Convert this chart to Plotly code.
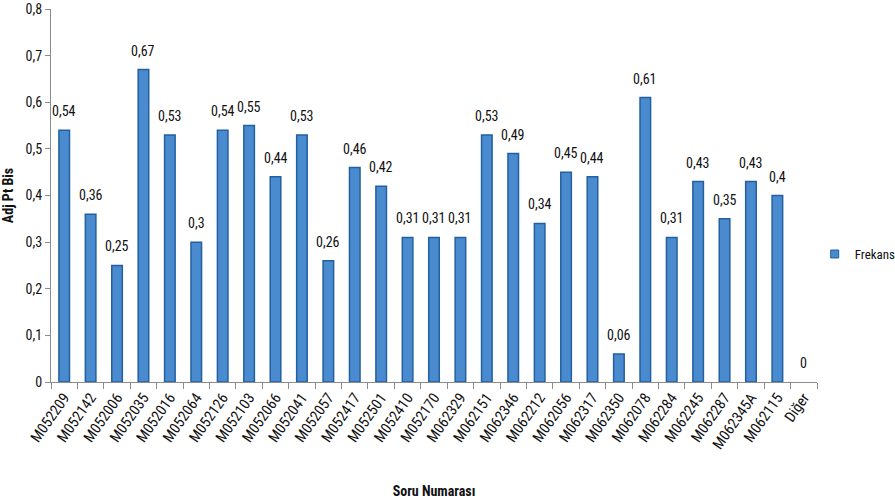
import plotly.graph_objects as go

# Item codes and their adjusted point-biserial values
items = ["M052209", "M052142", "M052006", "M052035", "M052016", "M052064", "M052126",
         "M052103", "M052066", "M052041", "M052057", "M052417", "M052501", "M052410",
         "M052170", "M062329", "M062151", "M062346", "M062212", "M062056", "M062317",
         "M062350", "M062078", "M062284", "M062245", "M062287", "M062345A", "M062115",
         "Diğer"]
adj_pt_bis = [0.54, 0.36, 0.25, 0.67, 0.53, 0.30, 0.54, 0.55, 0.44, 0.53, 0.26, 0.46,
              0.42, 0.31, 0.31, 0.31, 0.53, 0.49, 0.34, 0.45, 0.44, 0.06, 0.61, 0.31,
              0.43, 0.35, 0.43, 0.40, 0.0]

FONT = "Liberation Sans Narrow, Roboto Condensed, Noto Sans, sans-serif"
BAR_FILL = "#4A8BD0"
BAR_EDGE = "#22609F"

fig = go.Figure()
fig.add_trace(go.Bar(
    x=items, y=adj_pt_bis, name="Frekans", showlegend=False,
    marker=dict(color=BAR_FILL,
                line=dict(color=BAR_EDGE, width=[1.5 if v > 0 else 0 for v in adj_pt_bis])),
    width=0.4,
))
# compact square legend key
fig.add_trace(go.Scatter(
    x=[None], y=[None], mode="markers", name="Frekans",
    marker=dict(symbol="square", size=8, color=BAR_FILL, line=dict(color=BAR_EDGE, width=1)),
))

# value labels above each bar, comma as decimal mark
for cat, v in zip(items, adj_pt_bis):
    fig.add_annotation(
        x=cat, y=v, text=(f"{v:g}").replace(".", ","),
        showarrow=False, yanchor="bottom", yshift=9,
        font=dict(family=FONT, size=14, color="#111111"),
    )

fig.update_layout(
    width=895, height=502,
    margin=dict(l=51, r=78, t=9, b=120, autoexpand=False),
    paper_bgcolor="white", plot_bgcolor="white",
    separators=",.",
    font=dict(family=FONT, size=14, color="#111111"),
    showlegend=True,
    legend=dict(x=0.997, y=0.343, yanchor="middle", xanchor="left",
                font=dict(family=FONT, size=13), itemwidth=30,
                bgcolor="rgba(0,0,0,0)"),
)
fig.update_xaxes(
    type="category", tickangle=-55, showline=True, linecolor="#8C8C8C", linewidth=1,
    ticks="outside", ticklen=6, tickcolor="#8C8C8C", tickson="boundaries",
    tickfont=dict(family=FONT, size=15, color="#111111"), automargin=False,
    title=dict(text="<b>Soru Numarası</b>", font=dict(family=FONT, size=14), standoff=34),
    showgrid=False, range=[-0.5, len(items) - 0.5],
)
fig.update_yaxes(
    range=[0, 0.8], dtick=0.1, showline=True, linecolor="#8C8C8C", linewidth=1,
    ticks="outside", ticklen=5, tickcolor="#8C8C8C", showgrid=False, zeroline=False,
    tickfont=dict(family=FONT, size=14, color="#111111"), automargin=False,
    title=dict(text="<b>Adj Pt Bis</b>", font=dict(family=FONT, size=14), standoff=10),
)

fig.write_html("out.html")
